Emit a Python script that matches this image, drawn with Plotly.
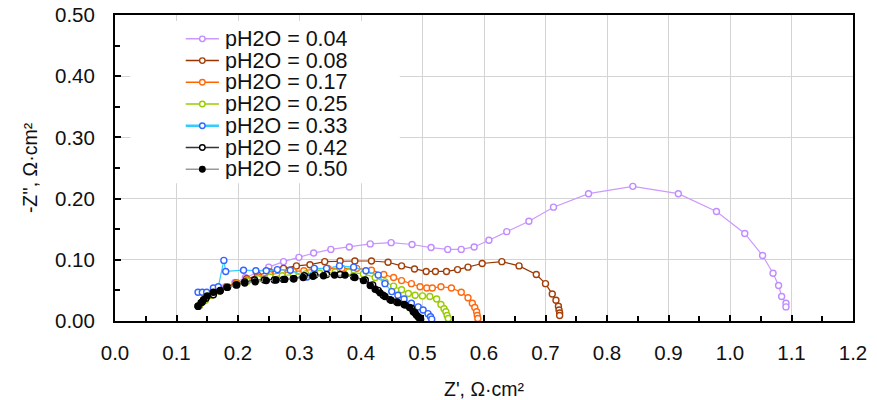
import plotly.graph_objects as go

# pH2O = 0.04
x_004 = [0.137, 0.145, 0.155, 0.167, 0.180, 0.195, 0.212, 0.230, 0.250, 0.274, 0.299, 0.323,
         0.351, 0.381, 0.415, 0.449, 0.483, 0.514, 0.541, 0.563, 0.584, 0.608, 0.637, 0.673,
         0.713, 0.770, 0.842, 0.916, 0.978, 1.024, 1.053, 1.070, 1.079, 1.084, 1.091, 1.091]
y_004 = [0.025, 0.035, 0.043, 0.050, 0.056, 0.063, 0.071, 0.079, 0.088, 0.097, 0.104, 0.111,
         0.117, 0.121, 0.126, 0.128, 0.125, 0.120, 0.117, 0.117, 0.121, 0.132, 0.146, 0.163,
         0.186, 0.208, 0.220, 0.208, 0.179, 0.143, 0.107, 0.078, 0.058, 0.040, 0.029, 0.023]

# pH2O = 0.08
x_008 = [0.137, 0.146, 0.156, 0.168, 0.182, 0.197, 0.214, 0.232, 0.252, 0.274, 0.295, 0.317,
         0.341, 0.366, 0.390, 0.417, 0.444, 0.466, 0.487, 0.506, 0.521, 0.539, 0.557, 0.574,
         0.597, 0.629, 0.657, 0.685, 0.700, 0.711, 0.717, 0.721, 0.722, 0.723, 0.723]
y_008 = [0.025, 0.035, 0.043, 0.050, 0.056, 0.062, 0.069, 0.075, 0.080, 0.086, 0.090, 0.092,
         0.097, 0.098, 0.098, 0.098, 0.096, 0.090, 0.085, 0.081, 0.081, 0.081, 0.084, 0.088,
         0.094, 0.097, 0.090, 0.076, 0.061, 0.044, 0.034, 0.024, 0.018, 0.013, 0.009]

# pH2O = 0.17
x_017 = [0.137, 0.147, 0.157, 0.169, 0.183, 0.198, 0.215, 0.233, 0.252, 0.272, 0.290, 0.307,
         0.324, 0.346, 0.369, 0.393, 0.417, 0.437, 0.453, 0.466, 0.482, 0.496, 0.507, 0.516,
         0.530, 0.547, 0.563, 0.574, 0.581, 0.585, 0.588, 0.589, 0.590]
y_017 = [0.025, 0.035, 0.043, 0.050, 0.056, 0.062, 0.067, 0.072, 0.076, 0.079, 0.081, 0.082,
         0.085, 0.086, 0.086, 0.086, 0.083, 0.076, 0.071, 0.066, 0.061, 0.056, 0.054, 0.054,
         0.056, 0.054, 0.047, 0.038, 0.029, 0.022, 0.015, 0.009, 0.004]

# pH2O = 0.25
x_025 = [0.137, 0.147, 0.157, 0.169, 0.183, 0.198, 0.215, 0.233, 0.252, 0.272, 0.290, 0.310,
         0.333, 0.358, 0.380, 0.404, 0.423, 0.439, 0.453, 0.466, 0.477, 0.488, 0.500, 0.512,
         0.523, 0.530, 0.535, 0.538, 0.540, 0.542]
y_025 = [0.025, 0.034, 0.042, 0.049, 0.055, 0.060, 0.065, 0.069, 0.072, 0.074, 0.076, 0.077,
         0.078, 0.080, 0.080, 0.077, 0.071, 0.064, 0.057, 0.051, 0.045, 0.042, 0.041, 0.040,
         0.036, 0.027, 0.020, 0.015, 0.009, 0.004]

# pH2O = 0.33
x_033 = [0.135, 0.142, 0.149, 0.160, 0.168, 0.177, 0.180, 0.209, 0.229, 0.246, 0.264, 0.285,
         0.312, 0.324, 0.344, 0.365, 0.388, 0.408, 0.428, 0.439, 0.450, 0.460, 0.470, 0.482,
         0.493, 0.501, 0.509, 0.513, 0.515]
y_033 = [0.047, 0.047, 0.047, 0.054, 0.056, 0.099, 0.081, 0.083, 0.082, 0.082, 0.084, 0.083,
         0.072, 0.086, 0.086, 0.090, 0.088, 0.082, 0.075, 0.061, 0.048, 0.042, 0.036, 0.029,
         0.023, 0.018, 0.012, 0.007, 0.003]

# pH2O = 0.42
x_042 = [0.135, 0.142, 0.148, 0.160, 0.171, 0.183, 0.197, 0.211, 0.227, 0.243, 0.259, 0.274,
         0.290, 0.308, 0.325, 0.344, 0.366, 0.388, 0.407, 0.419, 0.428, 0.436, 0.447, 0.458,
         0.472, 0.482, 0.488, 0.493, 0.496]
y_042 = [0.024, 0.031, 0.037, 0.043, 0.049, 0.055, 0.059, 0.064, 0.067, 0.067, 0.067, 0.068,
         0.069, 0.074, 0.075, 0.076, 0.076, 0.072, 0.067, 0.059, 0.050, 0.042, 0.035, 0.031,
         0.026, 0.021, 0.013, 0.007, 0.003]

# pH2O = 0.50
x_050 = [0.135, 0.140, 0.144, 0.150, 0.160, 0.171, 0.182, 0.198, 0.211, 0.228, 0.246, 0.262,
         0.276, 0.291, 0.306, 0.322, 0.339, 0.357, 0.374, 0.390, 0.404, 0.415, 0.423, 0.431,
         0.439, 0.449, 0.460, 0.470, 0.479, 0.485, 0.490, 0.494, 0.497]
y_050 = [0.024, 0.030, 0.035, 0.041, 0.047, 0.050, 0.055, 0.059, 0.062, 0.064, 0.066, 0.067,
         0.068, 0.069, 0.071, 0.073, 0.074, 0.075, 0.075, 0.071, 0.066, 0.058, 0.052, 0.046,
         0.040, 0.034, 0.030, 0.027, 0.022, 0.015, 0.010, 0.006, 0.003]

labels = ['pH2O = 0.04', 'pH2O = 0.08', 'pH2O = 0.17', 'pH2O = 0.25',
          'pH2O = 0.33', 'pH2O = 0.42', 'pH2O = 0.50']
series_x = [x_004, x_008, x_017, x_025, x_033, x_042, x_050]
series_y = [y_004, y_008, y_017, y_025, y_033, y_042, y_050]

# estilos: (color linea, borde marcador, relleno marcador)
estilos = [('#cc99ff', '#c08cff', 'white'),
           ('#993300', '#a3400a', 'white'),
           ('#ff6600', '#ff6a10', 'white'),
           ('#99cc00', '#99cc00', 'white'),
           ('#33ccff', '#3366ff', 'white'),
           ('#333333', '#000000', 'white'),
           ('#999999', '#000000', '#000000')]

FONT = 'Liberation Sans, Arial, sans-serif'

fig = go.Figure()

for xs, ys, lab, (lc, mc, fc) in zip(series_x, series_y, labels, estilos):
    fig.add_trace(go.Scatter(x=xs, y=ys, mode='lines+markers', name=lab,
                             line=dict(color=lc, width=1.2),
                             marker=dict(symbol='circle', size=6, color=fc,
                                         line=dict(color=mc, width=1.4)),
                             showlegend=False))

# leyenda manual (el espaciado de la leyenda de plotly es demasiado grande)
fig.add_shape(type='rect', xref='x', yref='y', x0=0.025, x1=0.463, y0=0.225, y1=0.49,
              fillcolor='white', line=dict(width=0), layer='between')

fila0, paso = 0.461, 0.0355
for i, (lab, (lc, mc, fc)) in enumerate(zip(labels, estilos)):
    yy = fila0 - i * paso
    fig.add_trace(go.Scatter(x=[0.115, 0.169], y=[yy, yy], mode='lines',
                             line=dict(color=lc, width=1.5 if i != 4 else 2.5),
                             hoverinfo='skip', showlegend=False))
    fig.add_trace(go.Scatter(x=[0.142], y=[yy], mode='markers',
                             marker=dict(symbol='circle', size=5.5, color=fc,
                                         line=dict(color=mc, width=1.4)),
                             hoverinfo='skip', showlegend=False))
    fig.add_annotation(x=0.176, y=yy, xref='x', yref='y', text=lab, showarrow=False,
                       xanchor='left', yanchor='middle', height=20, valign='middle',
                       font=dict(family=FONT, size=21.5, color='#111111'))

eje = dict(showline=True, linecolor='black', linewidth=2, mirror=True,
           showgrid=True, gridcolor='#d4d4d4', gridwidth=1, zeroline=False,
           ticks='inside', ticklen=6, tickwidth=1.5, tickcolor='black',
           automargin=False, ticklabeloverflow='allow',
           tickfont=dict(family=FONT, size=20.5, color='#111111'))

# el body de la pagina tiene 8px de margen: se compensa aqui
fig.update_layout(
    width=877, height=400,
    margin=dict(l=107, r=32, t=7, b=87),
    plot_bgcolor='white', paper_bgcolor='white',
    font=dict(family=FONT, color='#111111'),
    xaxis=dict(eje, range=[0, 1.2], dtick=0.1, tick0=0, tickformat='.1f',
               ticklabelstandoff=12,
               minor=dict(dtick=0.05, ticks='inside', ticklen=5, tickcolor='black',
                          showgrid=False),
               title=dict(text="Z', Ω·cm²", standoff=20,
                          font=dict(family=FONT, size=19.5, color='#111111'))),
    yaxis=dict(eje, range=[0, 0.5], dtick=0.1, tick0=0, tickformat='.2f',
               ticklabelstandoff=14,
               minor=dict(dtick=0.05, ticks='inside', ticklen=5, tickcolor='black',
                          showgrid=False),
               title=dict(text="-Z'', Ω·cm²", standoff=12,
                          font=dict(family=FONT, size=19.5, color='#111111'))),
)

fig.write_html("out.html")
